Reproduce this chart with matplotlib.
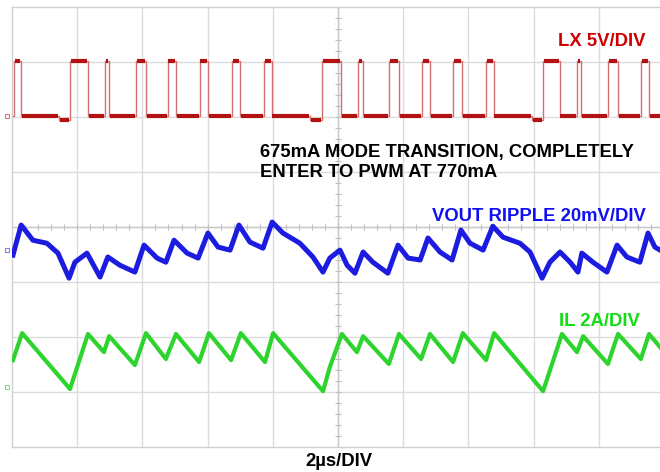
import numpy as np
import matplotlib.pyplot as plt

# time base: 2 us/div, 10 divisions
t_span = 20.0

# LX switch node (V), 5 V/div
lx_rise = [0.06, 1.78, 2.85, 3.80, 4.78, 5.76, 6.75, 7.73, 9.51, 10.61,
           11.56, 12.58, 13.53, 14.54, 16.29, 17.33, 18.28, 19.29]
lx_fall = [0.28, 2.33, 2.98, 4.11, 5.03, 6.01, 6.99, 7.97, 10.09, 10.77,
           11.87, 12.82, 13.80, 14.78, 16.80, 17.45, 18.59, 19.54]
lx_dip_start = [1.44, 9.14, 15.95]
lx_high = 5.0
lx_low = 0.0
lx_dip = -0.35

# VOUT ripple (mV), 20 mV/div
vout_t = [0.03, 0.28, 0.64, 1.07, 1.41, 1.75, 1.93, 2.30, 2.70, 2.94, 3.31, 3.77,
          4.05, 4.45, 4.72, 4.97, 5.37, 5.71, 6.01, 6.32, 6.69, 6.96, 7.30, 7.70,
          7.98, 8.31, 8.83, 9.23, 9.54, 9.75, 10.06, 10.28, 10.52, 10.77, 11.07,
          11.53, 11.84, 12.15, 12.52, 12.76, 13.13, 13.50, 13.77, 14.05, 14.45,
          14.75, 15.06, 15.58, 15.89, 16.26, 16.50, 16.81, 17.12, 17.36, 17.48,
          17.82, 18.25, 18.56, 18.86, 19.26, 19.51, 19.72, 19.88]
vout_mv = [-1.8, 9.1, 3.6, 2.5, -1.1, -10.2, -4.4, -1.1, -9.8, -2.5, -5.5, -8.0,
           1.8, -2.9, -4.4, 3.6, -1.1, -2.9, 6.2, 1.1, 0.0, 9.1, 2.9, 0.7,
           10.2, 6.2, 2.5, -2.5, -8.0, -2.9, 0.0, -5.5, -8.4, -0.7, -4.4,
           -8.4, 1.8, -2.9, -3.6, 4.4, -0.7, -3.6, 7.3, 2.5, 0.0,
           8.7, 4.7, 2.5, -0.7, -10.2, -4.4, -0.7, -4.4, -8.0, -1.1,
           -4.4, -8.0, 1.8, -2.5, -4.4, 6.2, 1.1, 0.0]

# inductor current (A), 2 A/div
il_t = [0.03, 0.31, 1.78, 2.33, 2.82, 2.98, 3.77, 4.11, 4.72, 5.03, 5.74, 6.04,
        6.72, 7.02, 7.76, 8.01, 9.54, 9.75, 10.12, 10.58, 10.77, 11.56, 11.87,
        12.55, 12.82, 13.53, 13.83, 14.54, 14.79, 16.29, 16.87, 17.33, 17.52,
        18.28, 18.59, 19.29, 19.54, 19.88]
il_a = [0.98, 1.96, -0.07, 1.93, 1.27, 1.85, 0.80, 1.96, 1.02, 1.93, 0.91, 1.96,
        0.98, 1.96, 0.91, 1.96, -0.15, 0.73, 1.93, 1.27, 1.85, 0.84, 1.93,
        1.02, 1.93, 0.91, 1.96, 0.98, 1.96, -0.15, 1.93, 1.27, 1.85,
        0.84, 1.93, 1.02, 1.93, 1.45]

# channel offsets (div from bottom) and scales (units/div)
lx_off, lx_scale = 6.02, 5.0
vout_off, vout_scale = 3.58, 20.0
il_off, il_scale = 1.09, 2.0

fig = plt.figure(figsize=(6.6, 4.72), dpi=100)
ax = fig.add_axes([12 / 660, 25 / 472, 652 / 660, 440 / 472])
ax.set_xlim(0, t_span)
ax.set_ylim(0, 8)
ax.set_xticks([])
ax.set_yticks([])
for s in ax.spines.values():
    s.set_color('#d0d0d0')
    s.set_linewidth(1.0)

# scope graticule
for i in range(1, 10):
    ax.axvline(i * 2.0, color='#dcdcdc', lw=1.0, zorder=0)
for j in range(1, 8):
    ax.axhline(j, color='#dcdcdc', lw=1.0, zorder=0)
ax.axhline(4, color='#c8c8c8', lw=1.0, zorder=0)
ax.axvline(10, color='#c8c8c8', lw=1.0, zorder=0)
mx = np.arange(0, t_span + 0.01, 0.4)
my = np.arange(0, 8.01, 0.2)
ax.plot(mx, np.full_like(mx, 4.0), ls='none', marker='|', ms=4, color='#c0c0c0', mew=0.8, zorder=0)
ax.plot(np.full_like(my, 10.0), my, ls='none', marker='_', ms=4, color='#c0c0c0', mew=0.8, zorder=0)

# channel ground markers just left of the screen
for off, c in [(lx_off, '#d08080'), (vout_off, '#8080f0'), (il_off, '#80e080')]:
    ax.plot([-0.15], [off], marker='s', ms=3.5, mfc='none', mec=c, mew=0.8, clip_on=False)

# LX trace: build step events from edge lists
events = [(t, lx_high) for t in lx_rise] + [(t, lx_low) for t in lx_fall] + \
         [(t, lx_dip) for t in lx_dip_start]
events.sort()
lx_t = [0.0]
lx_v = [lx_low]
level = lx_low
seg = []
seg_start = 0.0
for t, v in events:
    seg.append((seg_start, t, level))
    lx_t += [t, t]
    lx_v += [level, v]
    level = v
    seg_start = t
seg.append((seg_start, t_span, level))
lx_t.append(t_span)
lx_v.append(level)
lx_y = lx_off + np.array(lx_v) / lx_scale
ax.plot(lx_t, lx_y, color='#d27070', lw=1.0, zorder=2)
for a, b, v in seg:
    ax.hlines(lx_off + v / lx_scale, a + 0.02, b - 0.02, color='#b31212', lw=3.0, zorder=3)

# VOUT ripple
ax.plot(vout_t, vout_off + np.array(vout_mv) / vout_scale, color='#1c1ce0', lw=3.6,
        solid_joinstyle='round', zorder=3)

# inductor current
ax.plot(il_t, il_off + np.array(il_a) / il_scale, color='#2ed42e', lw=3.0,
        solid_joinstyle='round', zorder=3)

font = dict(family=['Liberation Sans', 'DejaVu Sans'], fontweight='bold', fontsize=13.3)


def put(x, y, s, c):
    fig.text(x / 660, 1 - y / 472, s, color=c, ha='left', va='baseline', **font)


put(558, 46, 'LX 5V/DIV', '#cc0000')
put(260, 157, '675mA MODE TRANSITION, COMPLETELY', 'black')
put(260, 177, 'ENTER TO PWM AT 770mA', 'black')
put(432, 221, 'VOUT RIPPLE 20mV/DIV', '#1010f0')
put(559, 326, 'IL 2A/DIV', '#11dd11')
put(305, 466, '2µs/DIV', 'black')

fig.savefig('out.png', dpi=100, facecolor='white')
